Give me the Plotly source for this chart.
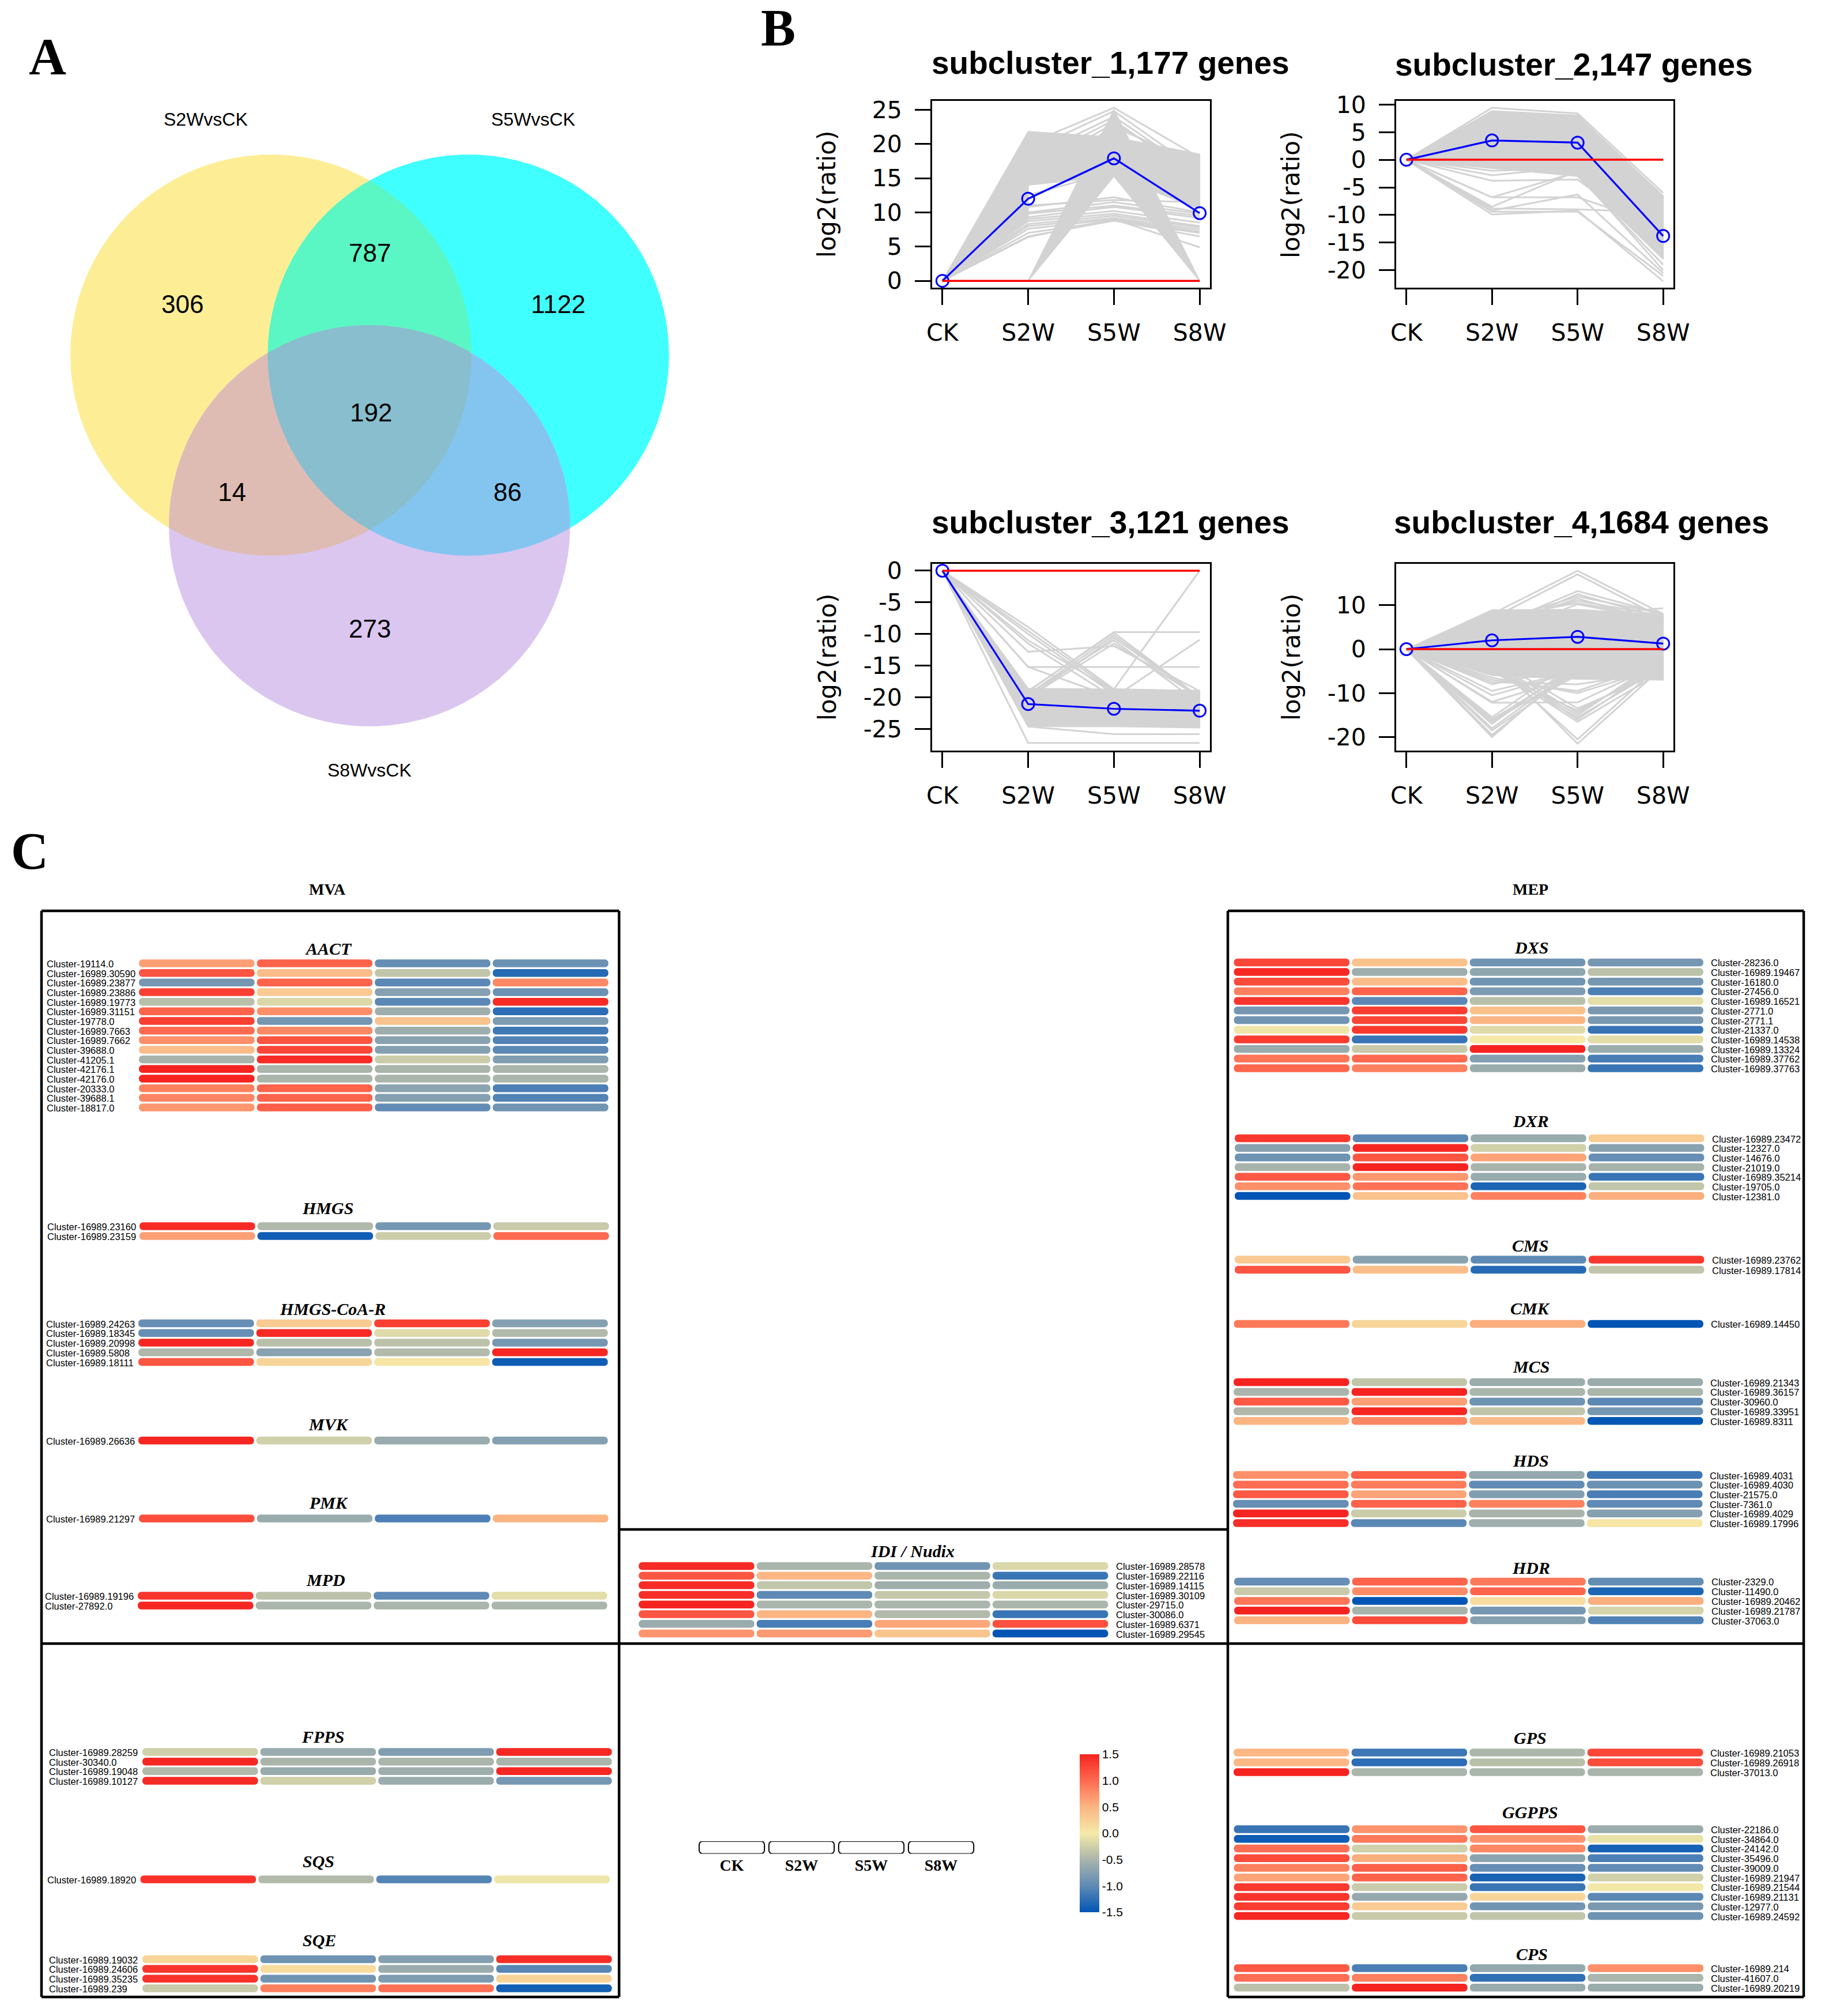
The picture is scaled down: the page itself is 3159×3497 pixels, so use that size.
import numpy as np
import plotly.graph_objects as go

W, H = 3159, 3497

# ---------- Panel A data ----------
venn_set_names = ["S2WvsCK", "S5WvsCK", "S8WvsCK"]
venn_counts = ["306", "787", "1122", "192", "14", "86", "273"]

# ---------- Panel B data ----------
stages = ["CK", "S2W", "S5W", "S8W"]
sub_titles = ["subcluster_1,177 genes", "subcluster_2,147 genes", "subcluster_3,121 genes", "subcluster_4,1684 genes"]
sub1_mean = [0, 12, 17.9, 9.9]
sub2_mean = [0, 3.5, 3.1, -13.8]
sub3_mean = [0, -21.05, -21.8, -22.1]
sub4_mean = [0, 2.0, 2.8, 1.25]
sub1_ticks = [0, 5, 10, 15, 20, 25]
sub2_ticks = [-20, -15, -10, -5, 0, 5, 10]
sub3_ticks = [-25, -20, -15, -10, -5, 0]
sub4_ticks = [-20, -10, 0, 10]
# dense bundles of genes: (stages spanned, upper edge, lower edge)
sub1_bands = [([1, 2, 3, 4], [0, 21.8, 21, 18.5], [0, 14, 15.3, 10.5]), ([1, 2], [0, 14], [0, 9]),
              ([2, 3], [0, 25], [0, 15.3]), ([3, 4], [25, 0], [15.3, 0])]
sub2_bands = [([1, 2, 3, 4], [0, 8.8, 8, -6.5], [0, -1.5, -3, -18])]
sub3_bands = [([1, 2, 3, 4], [0, -18.6, -18.7, -18.9], [0, -24.6, -24.6, -24.8])]
sub4_bands = [([1, 2, 3, 4], [0, 8.9, 9, 7.8], [0, -6, -6.8, -7])]
# individually visible genes
sub1_lines = [[0, 11, 11.8, 11.5], [0, 10.8, 12.2, 10], [0, 10, 11.5, 9.8], [0, 9.8, 11, 9.5], [0, 9.3, 10.8, 9.2],
              [0, 9, 10.2, 8.5], [0, 8.7, 9.8, 8], [0, 8.3, 9.5, 7.8], [0, 8, 9.2, 7.5], [0, 7.6, 9, 7.2],
              [0, 7, 8.8, 7], [0, 6.5, 8.8, 6.5], [0, 6.4, 9, 4.9], [0, 20, 25.3, 18], [0, 19, 24.8, 16],
              [0, 18, 24, 15.5], [0, 17, 23.5, 14.5], [0, 16, 23, 16], [0, 15, 22.5, 17], [0, 12.5, 16, 12]]
sub2_lines = [[0, 9.4, 8.4, -6], [0, 8.8, 8, -7], [0, -2, -1.5, -8], [0, -2.8, -1.3, -10], [0, -3.8, -3.6, -15],
              [0, -6.8, -2.2, -14], [0, -6.8, -6.8, -12], [0, -8.5, -2, -17], [0, -8.8, -9, -9.5],
              [0, -9.2, -6.3, -20.5], [0, -9.9, -9.2, -22], [0, -9.4, -9.4, -21], [0, -0.8, -2.9, -19], [0, -1.5, -2.5, -20]]
sub3_lines = [[0, -27.2, -27.2, -27.2], [0, -24.6, -25.8, -25.8], [0, -8.9, -18.7, -19], [0, -9.5, -19, -20],
              [0, -10, -19.5, -21], [0, -11, -19, -20], [0, -11.5, -20, -21], [0, -12.8, -11.9, -19],
              [0, -15.2, -15.2, -15.2], [0, -15.2, -20, -21], [0, -19, -9.7, -9.7], [0, -19, -9.8, -20],
              [0, -19.5, -10.2, -20], [0, -20, -10.6, -20], [0, -19.5, -11, -21], [0, -20, -11.5, -20],
              [0, -21, -20, -10.9], [0, -20, -18.7, 0]]
sub4_lines = [[0, 8, 17.8, 8], [0, 7, 17, 7], [0, 5, 13.2, 8], [0, 4, 12.5, 7], [0, 6, 12, 8], [0, 5, 11.5, 6],
              [0, 6, 11, 7.5], [0, 7, 10.5, 7], [0, 3, 10.2, 6.5], [0, 8, 7.6, 9.3], [0, -20, -3, -4], [0, -19.5, -4, -3],
              [0, -18.5, -5, -3], [0, -18, -4, -5], [0, -17, -3, -2], [0, -16.5, -5, -4], [0, -16, -6, -3], [0, -16, -4, -1],
              [0, -15.5, -2, -3], [0, -12.2, -12.1, -3], [0, -12, -6, -4], [0, -10.5, -5, -3], [0, -9.5, -5, -2],
              [0, -8, -4, -4], [0, -6.5, -10, -4], [0, -7, -9.5, -3], [0, -7.5, -8, -5], [0, -2, -21.5, -4],
              [0, -3, -20.5, -3], [0, -4, -16.5, -5], [0, -3, -16, -3], [0, -5, -15.5, -4], [0, -4, -15, -2],
              [0, -3, -14.5, -3], [0, -5, -14, -4], [0, -2, -13.5, -5]]

# ---------- Panel C data ----------
AACT_names = ["Cluster-19114.0", "Cluster-16989.30590", "Cluster-16989.23877", "Cluster-16989.23886", "Cluster-16989.19773",
              "Cluster-16989.31151", "Cluster-19778.0", "Cluster-16989.7663", "Cluster-16989.7662", "Cluster-39688.0",
              "Cluster-41205.1", "Cluster-42176.1", "Cluster-42176.0", "Cluster-20333.0", "Cluster-39688.1", "Cluster-18817.0"]
AACT_vals = [[.65, 1.05, -.95, -.92], [1.15, .42, -.35, -1.3], [-.85, 1.05, -1.02, .8], [1.3, .3, -.75, -.92],
             [-.4, -.18, -1.02, 1.45], [1.05, .75, -.58, -1.27], [1.3, -.85, .38, -.8], [1.0, .8, -.58, -1.17],
             [.75, 1.15, -.72, -1.07], [.42, 1.25, -.75, -1.02], [-.52, 1.45, -.28, -.78], [1.5, -.5, -.5, -.5],
             [1.5, -.5, -.5, -.5], [.85, 1.05, -.7, -1.1], [.82, 1.05, -.75, -1.07], [.7, 1.08, -.98, -.88]]
HMGS_names = ["Cluster-16989.23160", "Cluster-16989.23159"]
HMGS_vals = [[1.45, -.47, -.85, -.3], [.65, -1.42, -.28, 1.0]]
HMGR_names = ["Cluster-16989.24263", "Cluster-16989.18345", "Cluster-16989.20998", "Cluster-16989.5808", "Cluster-16989.18111"]
HMGR_vals = [[-.95, .3, 1.3, -.75], [-.95, 1.45, -.15, -.45], [1.48, -.4, -.38, -.85], [-.47, -.72, -.45, 1.48], [1.15, .2, .05, -1.42]]
MVK_names = ["Cluster-16989.26636"]
MVK_vals = [[1.48, -.25, -.62, -.75]]
PMK_names = ["Cluster-16989.21297"]
PMK_vals = [[1.2, -.62, -1.1, .5]]
MPD_names = ["Cluster-16989.19196", "Cluster-27892.0"]
MPD_vals = [[1.38, -.38, -1.0, -.12], [1.48, -.5, -.5, -.5]]
FPPS_names = ["Cluster-16989.28259", "Cluster-30340.0", "Cluster-16989.19048", "Cluster-16989.10127"]
FPPS_vals = [[-.25, -.62, -.78, 1.48], [1.48, -.5, -.5, -.5], [-.45, -.62, -.58, 1.48], [1.45, -.25, -.6, -.85]]
SQS_names = ["Cluster-16989.18920"]
SQS_vals = [[1.4, -.45, -1.05, -.05]]
SQE_names = ["Cluster-16989.19032", "Cluster-16989.24606", "Cluster-16989.35235", "Cluster-16989.239"]
SQE_vals = [[.2, -.9, -.75, 1.42], [1.38, .13, -.6, -1.03], [1.4, -.88, -.8, .22], [-.3, .85, .95, -1.4]]
DXS_names = ["Cluster-28236.0", "Cluster-16989.19467", "Cluster-16180.0", "Cluster-27456.0", "Cluster-16989.16521", "Cluster-2771.0",
             "Cluster-2771.1", "Cluster-21337.0", "Cluster-16989.14538", "Cluster-16989.13324", "Cluster-16989.37762", "Cluster-16989.37763"]
DXS_vals = [[1.25, .38, -.88, -.85], [1.47, -.58, -.68, -.38], [1.22, .42, -.88, -.85], [.85, 1.05, -.8, -1.1],
            [1.38, -1.02, -.4, -.12], [-.85, 1.32, .4, -.82], [-.88, 1.25, .5, -.82], [-.05, 1.35, -.15, -1.2],
            [1.32, -1.2, 0, -.12], [-.62, -.3, 1.5, -.6], [.92, 1.0, -.75, -1.12], [1.02, .85, -.6, -1.2]]
DXR_names = ["Cluster-16989.23472", "Cluster-12327.0", "Cluster-14676.0", "Cluster-21019.0", "Cluster-16989.35214", "Cluster-19705.0", "Cluster-12381.0"]
DXR_vals = [[1.35, -1.02, -.62, .28], [-.72, 1.48, -.25, -.72], [-.9, 1.15, .62, -.95], [-.52, 1.5, -.52, -.52],
            [1.12, .7, -.62, -1.2], [.75, .95, -1.35, -.35], [-1.5, .38, .85, .55]]
CMS_names = ["Cluster-16989.23762", "Cluster-16989.17814"]
CMS_vals = [[.3, -.72, -1.0, 1.35], [1.15, .42, -1.3, -.35]]
CMK_names = ["Cluster-16989.14450"]
CMK_vals = [[.9, .2, .55, -1.5]]
MCS_names = ["Cluster-16989.21343", "Cluster-16989.36157", "Cluster-30960.0", "Cluster-16989.33951", "Cluster-16989.8311"]
MCS_vals = [[1.5, -.35, -.6, -.6], [-.5, 1.5, -.5, -.5], [1.12, .65, -.9, -1.02], [-.47, 1.48, -.35, -.85], [.5, .82, .45, -1.48]]
HDS_names = ["Cluster-16989.4031", "Cluster-16989.4030", "Cluster-21575.0", "Cluster-7361.0", "Cluster-16989.4029", "Cluster-16989.17996"]
HDS_vals = [[.75, 1.08, -.65, -1.18], [.98, .88, -.98, -.92], [1.12, .62, -.78, -1.12], [-.95, 1.05, .85, -1.0],
            [1.5, -.28, -.52, -.75], [1.42, -1.02, -.58, .05]]
HDR_names = ["Cluster-2329.0", "Cluster-11490.0", "Cluster-16989.20462", "Cluster-16989.21787", "Cluster-37063.0"]
HDR_vals = [[-.95, 1.05, .9, -.97], [-.3, .78, 1.05, -1.35], [.92, -1.5, .12, .55], [1.5, -.52, -.85, -.22], [.52, 1.22, -.75, -1.08]]
GPS_names = ["Cluster-16989.21053", "Cluster-16989.26918", "Cluster-37013.0"]
GPS_vals = [[.48, -1.18, -.48, 1.25], [.48, -1.27, -.4, 1.2], [1.5, -.5, -.5, -.5]]
GGPPS_names = ["Cluster-22186.0", "Cluster-34864.0", "Cluster-24142.0", "Cluster-35496.0", "Cluster-39009.0",
               "Cluster-16989.21947", "Cluster-16989.21544", "Cluster-16989.21131", "Cluster-12977.0", "Cluster-16989.24592"]
GGPPS_vals = [[-1.2, .72, 1.15, -.6], [-1.42, .9, .72, -.08], [.98, -.25, .8, -1.38], [1.22, .55, -.7, -1.1], [.85, 1.08, -.95, -.98],
              [.62, 1.05, -1.37, -.25], [1.35, -.3, -1.2, -.02], [1.38, -.65, .2, -1.02], [1.33, .3, -.88, -.82], [1.48, -.3, -.35, -.9]]
CPS_names = ["Cluster-16989.214", "Cluster-41607.0", "Cluster-16989.20219"]
CPS_vals = [[1.12, -1.1, -.65, .75], [.98, .85, -1.25, -.5], [-.38, 1.5, -.62, -.6]]
IDI_names = ["Cluster-16989.28578", "Cluster-16989.22116", "Cluster-16989.14115", "Cluster-16989.30109", "Cluster-29715.0",
             "Cluster-30086.0", "Cluster-16989.6371", "Cluster-16989.29545"]
IDI_vals = [[1.45, -.5, -.88, -.18], [1.15, .48, -.5, -1.2], [1.45, -.35, -.58, -.62], [1.42, -1.0, -.32, -.18],
            [1.5, -.5, -.5, -.5], [1.15, .5, -.45, -1.2], [-.6, -1.12, .6, 1.18], [.72, .68, .35, -1.5]]
colorbar_ticks = [-1.5, -1.0, -0.5, 0.0, 0.5, 1.0, 1.5]
colorbar_labels = ["-1.5", "-1.0", "-0.5", "0.0", "0.5", "1.0", "1.5"]

# ---------- Style / layout ----------
SCALE = [[0, "#0055b5"], [1/6, "#5f8ab5"], [1/3, "#aab5ab"], [.5, "#f5eaa8"], [2/3, "#fbb583"], [5/6, "#ff6a50"], [1, "#f62420"]]
GREY = "#d3d3d3"
SANS, SERIF, DEJA = "Liberation Sans", "Liberation Serif", "DejaVu Sans"
PITCH, BARW, BAR_T = 204.6, 200.6, 13.5

fig = go.Figure()
layout = dict(width=W, height=H, autosize=False, margin=dict(l=0, r=0, t=0, b=0, pad=0, autoexpand=False),
              paper_bgcolor="white", plot_bgcolor="rgba(0,0,0,0)", showlegend=False, barmode="overlay",
              barcornerradius=6, hovermode=False)
annots, shapes = [], []
axn = [0]


def px(x): return x / W
def py(y): return 1 - y / H


def text(x, y, s, size, family=SANS, bold=False, italic=False, color="black", angle=0, xanchor="center"):
    t = f"<b>{s}</b>" if bold else s
    t = f"<i>{t}</i>" if italic else t
    annots.append(dict(x=px(x), y=py(y), xref="paper", yref="paper", text=t, showarrow=False, xanchor=xanchor,
                       yanchor="middle", textangle=angle, align="center", borderpad=0, font=dict(size=size, family=family, color=color)))


def new_axes(x0, x1, y0, y1, xa, ya):
    axn[0] += 1
    n = axn[0]
    xa = dict(xa, domain=[px(x0), px(x1)], anchor=f"y{n}")
    ya = dict(ya, domain=[py(y1), py(y0)], anchor=f"x{n}")
    layout[f"xaxis{n}"] = xa
    layout[f"yaxis{n}"] = ya
    return n, ("x" if n == 1 else f"x{n}"), ("y" if n == 1 else f"y{n}")


# ---------- Panel A ----------
vx0, vx1, vy0, vy1 = 100, 1200, 240, 1290
n, xr, yr = new_axes(vx0, vx1, vy0, vy1, dict(visible=False, range=[vx0, vx1]), dict(visible=False, range=[vy1, vy0]))
circles = [(470, 616, 348), (812.5, 616, 348), (641, 912, 348)]


def region(members):
    pts = []
    for i in members:
        cx, cy, r = circles[i]
        a = np.linspace(0, 2 * np.pi, 900, endpoint=False)
        p = np.c_[cx + r * np.cos(a), cy + r * np.sin(a)]
        for j in members:
            if j != i:
                cj = circles[j]
                p = p[np.hypot(p[:, 0] - cj[0], p[:, 1] - cj[1]) <= cj[2]]
        pts.append(p)
    p = np.vstack(pts)
    c = p.mean(axis=0)
    p = p[np.argsort(np.arctan2(p[:, 1] - c[1], p[:, 0] - c[0]))]
    return p


for mem, col in [((0,), "#fdee96"), ((1,), "#40ffff"), ((2,), "#dbc6f0"), ((0, 1), "#5af7c4"), ((0, 2), "#dfbcb3"),
                 ((1, 2), "#84c5f0"), ((0, 1, 2), "#88bece")]:
    p = region(mem)
    fig.add_trace(go.Scatter(x=list(p[:, 0]) + [p[0, 0]], y=list(p[:, 1]) + [p[0, 1]], mode="lines", fill="toself",
                             fillcolor=col, line=dict(width=0, color=col), xaxis=xr, yaxis=yr))
for s, (x, y) in zip(venn_counts, [(316, 528), (641, 439), (968, 528), (643, 715), (402, 854), (881, 854), (641, 1090)]):
    text(x, y, s, 44)
for s, (x, y) in zip(venn_set_names, [(357, 207), (925, 207), (641, 1336)]):
    text(x, y, s, 32)
text(82, 98, "A", 90, SERIF, bold=True)
text(1350, 49, "B", 90, SERIF, bold=True)
text(51, 1476, "C", 90, SERIF, bold=True)


# ---------- Panel B ----------
def line_panel(title, mean, ticks, bands, lines, box, yrange, title_xy, ylab_xy):
    x0, x1, y0, y1 = box
    n, xr, yr = new_axes(x0, x1, y0, y1,
        dict(range=[.88, 4.12], tickmode="array", tickvals=[1, 2, 3, 4], ticktext=stages, ticks="outside", ticklen=27, tickwidth=3,
             tickcolor="black", showline=True, linecolor="black", linewidth=3, mirror=True, showgrid=False, zeroline=False,
             tickfont=dict(size=41, family=DEJA, color="black"), ticklabelstandoff=13),
        dict(range=yrange, tickmode="array", tickvals=ticks, ticktext=[str(t) for t in ticks], ticks="outside", ticklen=27, tickwidth=3,
             tickcolor="black", showline=True, linecolor="black", linewidth=3, mirror=True, showgrid=False, zeroline=False,
             tickfont=dict(size=41, family=DEJA, color="black"), ticklabelstandoff=14))
    for xs, up, lo in bands:
        fig.add_trace(go.Scatter(x=xs + xs[::-1], y=up + lo[::-1], mode="lines", fill="toself", fillcolor=GREY,
                                 line=dict(color=GREY, width=2), xaxis=xr, yaxis=yr))
    gx, gy = [], []
    for row in lines:
        gx += [1, 2, 3, 4, None]
        gy += row + [None]
    fig.add_trace(go.Scatter(x=gx, y=gy, mode="lines", line=dict(color=GREY, width=3), xaxis=xr, yaxis=yr))
    fig.add_trace(go.Scatter(x=[1, 2, 3, 4], y=mean, mode="lines+markers", line=dict(color="#0000ff", width=3.2),
                             marker=dict(symbol="circle-open", size=21, color="#0000ff", line=dict(width=3, color="#0000ff")),
                             xaxis=xr, yaxis=yr))
    fig.add_trace(go.Scatter(x=[1, 2, 3, 4], y=[0, 0, 0, 0], mode="lines", line=dict(color="#ff0000", width=3.5), xaxis=xr, yaxis=yr))
    text(title_xy[0], title_xy[1], title, 55, SANS, bold=True)
    text(ylab_xy[0], ylab_xy[1], "log2(ratio)", 42, DEJA, angle=-90)


line_panel(sub_titles[0], sub1_mean, sub1_ticks, sub1_bands, sub1_lines, (1617, 2099, 175, 499), [-1.0, 26.3], (1926, 109), (1435, 337))
line_panel(sub_titles[1], sub2_mean, sub2_ticks, sub2_bands, sub2_lines, (2422, 2903, 175, 499), [-23.16, 10.66], (2730, 112), (2240, 338))
line_panel(sub_titles[2], sub3_mean, sub3_ticks, sub3_bands, sub3_lines, (1617, 2099, 978, 1302), [-28.4, 1.09], (1926, 906), (1435, 1140))
line_panel(sub_titles[3], sub4_mean, sub4_ticks, sub4_bands, sub4_lines, (2422, 2903, 978, 1302), [-23.07, 19.4], (2743, 906), (2240, 1140))


# ---------- Panel C ----------
def heat_group(title, names, vals, first_y, last_y, bar_x, label_x, title_xy):
    k = len(names)
    p = (last_y - first_y) / (k - 1) if k > 1 else 17.0
    left = bar_x - (PITCH - BARW) / 2
    n, xr, yr = new_axes(left, left + 4 * PITCH, first_y - p / 2, last_y + p / 2,
                         dict(visible=False, range=[0, 4]),
                         dict(visible=False, type="category", categoryorder="array", categoryarray=names, range=[k - .5, -.5]))
    frac = BARW / PITCH
    for j in range(4):
        fig.add_trace(go.Bar(y=names, x=[frac] * k, base=[j + (1 - frac) / 2] * k, orientation="h", width=BAR_T / p,
                             marker=dict(color=[r[j] for r in vals], coloraxis="coloraxis", line=dict(width=0), cornerradius=6),
                             xaxis=xr, yaxis=yr))
    for i, nm in enumerate(names):
        text(label_x, first_y + i * p + 1, nm, 16.5, SANS, xanchor="left")
    text(title_xy[0], title_xy[1], title, 30, SERIF, bold=True, italic=True)


heat_group("AACT", AACT_names, AACT_vals, 1671, 1921, 241, 80, (570, 1645))
heat_group("HMGS", HMGS_names, HMGS_vals, 2127, 2144, 242, 81, (568, 2095))
heat_group("HMGS-CoA-R", HMGR_names, HMGR_vals, 2295.5, 2362.5, 240, 79, (577, 2270))
heat_group("MVK", MVK_names, MVK_vals, 2498.7, 2498.7, 240, 79, (570, 2470))
heat_group("PMK", PMK_names, PMK_vals, 2634, 2634, 241, 78.6, (570, 2606))
heat_group("MPD", MPD_names, MPD_vals, 2768, 2785, 239, 76.5, (565, 2740))
heat_group("FPPS", FPPS_names, FPPS_vals, 3039, 3089, 247, 84, (560, 3012))
heat_group("SQS", SQS_names, SQS_vals, 3260, 3260, 243.5, 80.7, (552, 3228))
heat_group("SQE", SQE_names, SQE_vals, 3398.5, 3449, 247, 84, (554, 3365))
heat_group("DXS", DXS_names, DXS_vals, 1669.4, 1853, 2140.5, 2967, (2656, 1643))
heat_group("DXR", DXR_names, DXR_vals, 1974.5, 2074.5, 2142, 2969, (2655, 1945))
heat_group("CMS", CMS_names, CMS_vals, 2185, 2202.5, 2142, 2969, (2654, 2160))
heat_group("CMK", CMK_names, CMK_vals, 2296.4, 2296.4, 2140.5, 2967, (2654, 2269.5))
heat_group("MCS", MCS_names, MCS_vals, 2397.6, 2464.8, 2140, 2966, (2656, 2370))
heat_group("HDS", HDS_names, HDS_vals, 2558.5, 2642, 2139, 2965, (2655, 2533))
heat_group("HDR", HDR_names, HDR_vals, 2743.4, 2810.5, 2141, 2968, (2656, 2719))
heat_group("GPS", GPS_names, GPS_vals, 3040, 3074, 2140, 2966, (2654, 3014.5))
heat_group("GGPPS", GGPPS_names, GGPPS_vals, 3173, 3323.6, 2140.5, 2967, (2654, 3143.6))
heat_group("CPS", CPS_names, CPS_vals, 3414, 3447.7, 2140.5, 2967, (2657, 3389))
heat_group("IDI / Nudix", IDI_names, IDI_vals, 2716.4, 2833.5, 1108, 1935, (1582.6, 2690))

text(568, 1542, "MVA", 28, SERIF, bold=True)
text(2655, 1542, "MEP", 28, SERIF, bold=True)

# stage key
n, xr, yr = new_axes(1209, 1693, 3194, 3215.5,
                     dict(range=[0, 4], tickmode="array", tickvals=[.5, 1.5, 2.5, 3.5], ticktext=[f"<b>{s}</b>" for s in stages],
                          ticks="", showline=False, showgrid=False, zeroline=False,
                          tickfont=dict(size=28, family=SERIF, color="black"), ticklabelstandoff=0),
                     dict(visible=False, type="category", range=[-.5, .5]))
fig.add_trace(go.Bar(y=["key"] * 4, x=[.936] * 4, base=[j + .032 for j in range(4)], orientation="h", width=1,
                     marker=dict(color="white", line=dict(width=2, color="black"), cornerradius=6), xaxis=xr, yaxis=yr))

layout["coloraxis"] = dict(cmin=-1.5, cmax=1.5, colorscale=SCALE,
                           colorbar=dict(x=px(1873), xanchor="left", y=py(3043), yanchor="top", lenmode="pixels", len=274,
                                         thicknessmode="pixels", thickness=34, xpad=0, ypad=0, outlinewidth=0, ticks="",
                                         tickmode="array", tickvals=colorbar_ticks, ticktext=colorbar_labels,
                                         tickfont=dict(size=21, family=SANS, color="black"), borderwidth=0))


# frames
def seg(x0, y0, x1, y1):
    shapes.append(dict(type="line", xref="paper", yref="paper", x0=px(x0), y0=py(y0), x1=px(x1), y1=py(y1),
                       line=dict(color="black", width=4.5)))


for (a, b) in [(72, 1074), (2130, 3129)]:
    seg(a, 1580, b, 1580)
    seg(a, 3464, b, 3464)
    seg(a, 1580, a, 3464)
    seg(b, 1580, b, 3464)
seg(72, 2851, 3129, 2851)
seg(1074, 2653, 2130, 2653)

layout["annotations"] = annots
layout["shapes"] = shapes
fig.update_layout(**layout)
fig.write_html("out.html", config={"displayModeBar": False}, post_script="document.body.style.margin='0';")
